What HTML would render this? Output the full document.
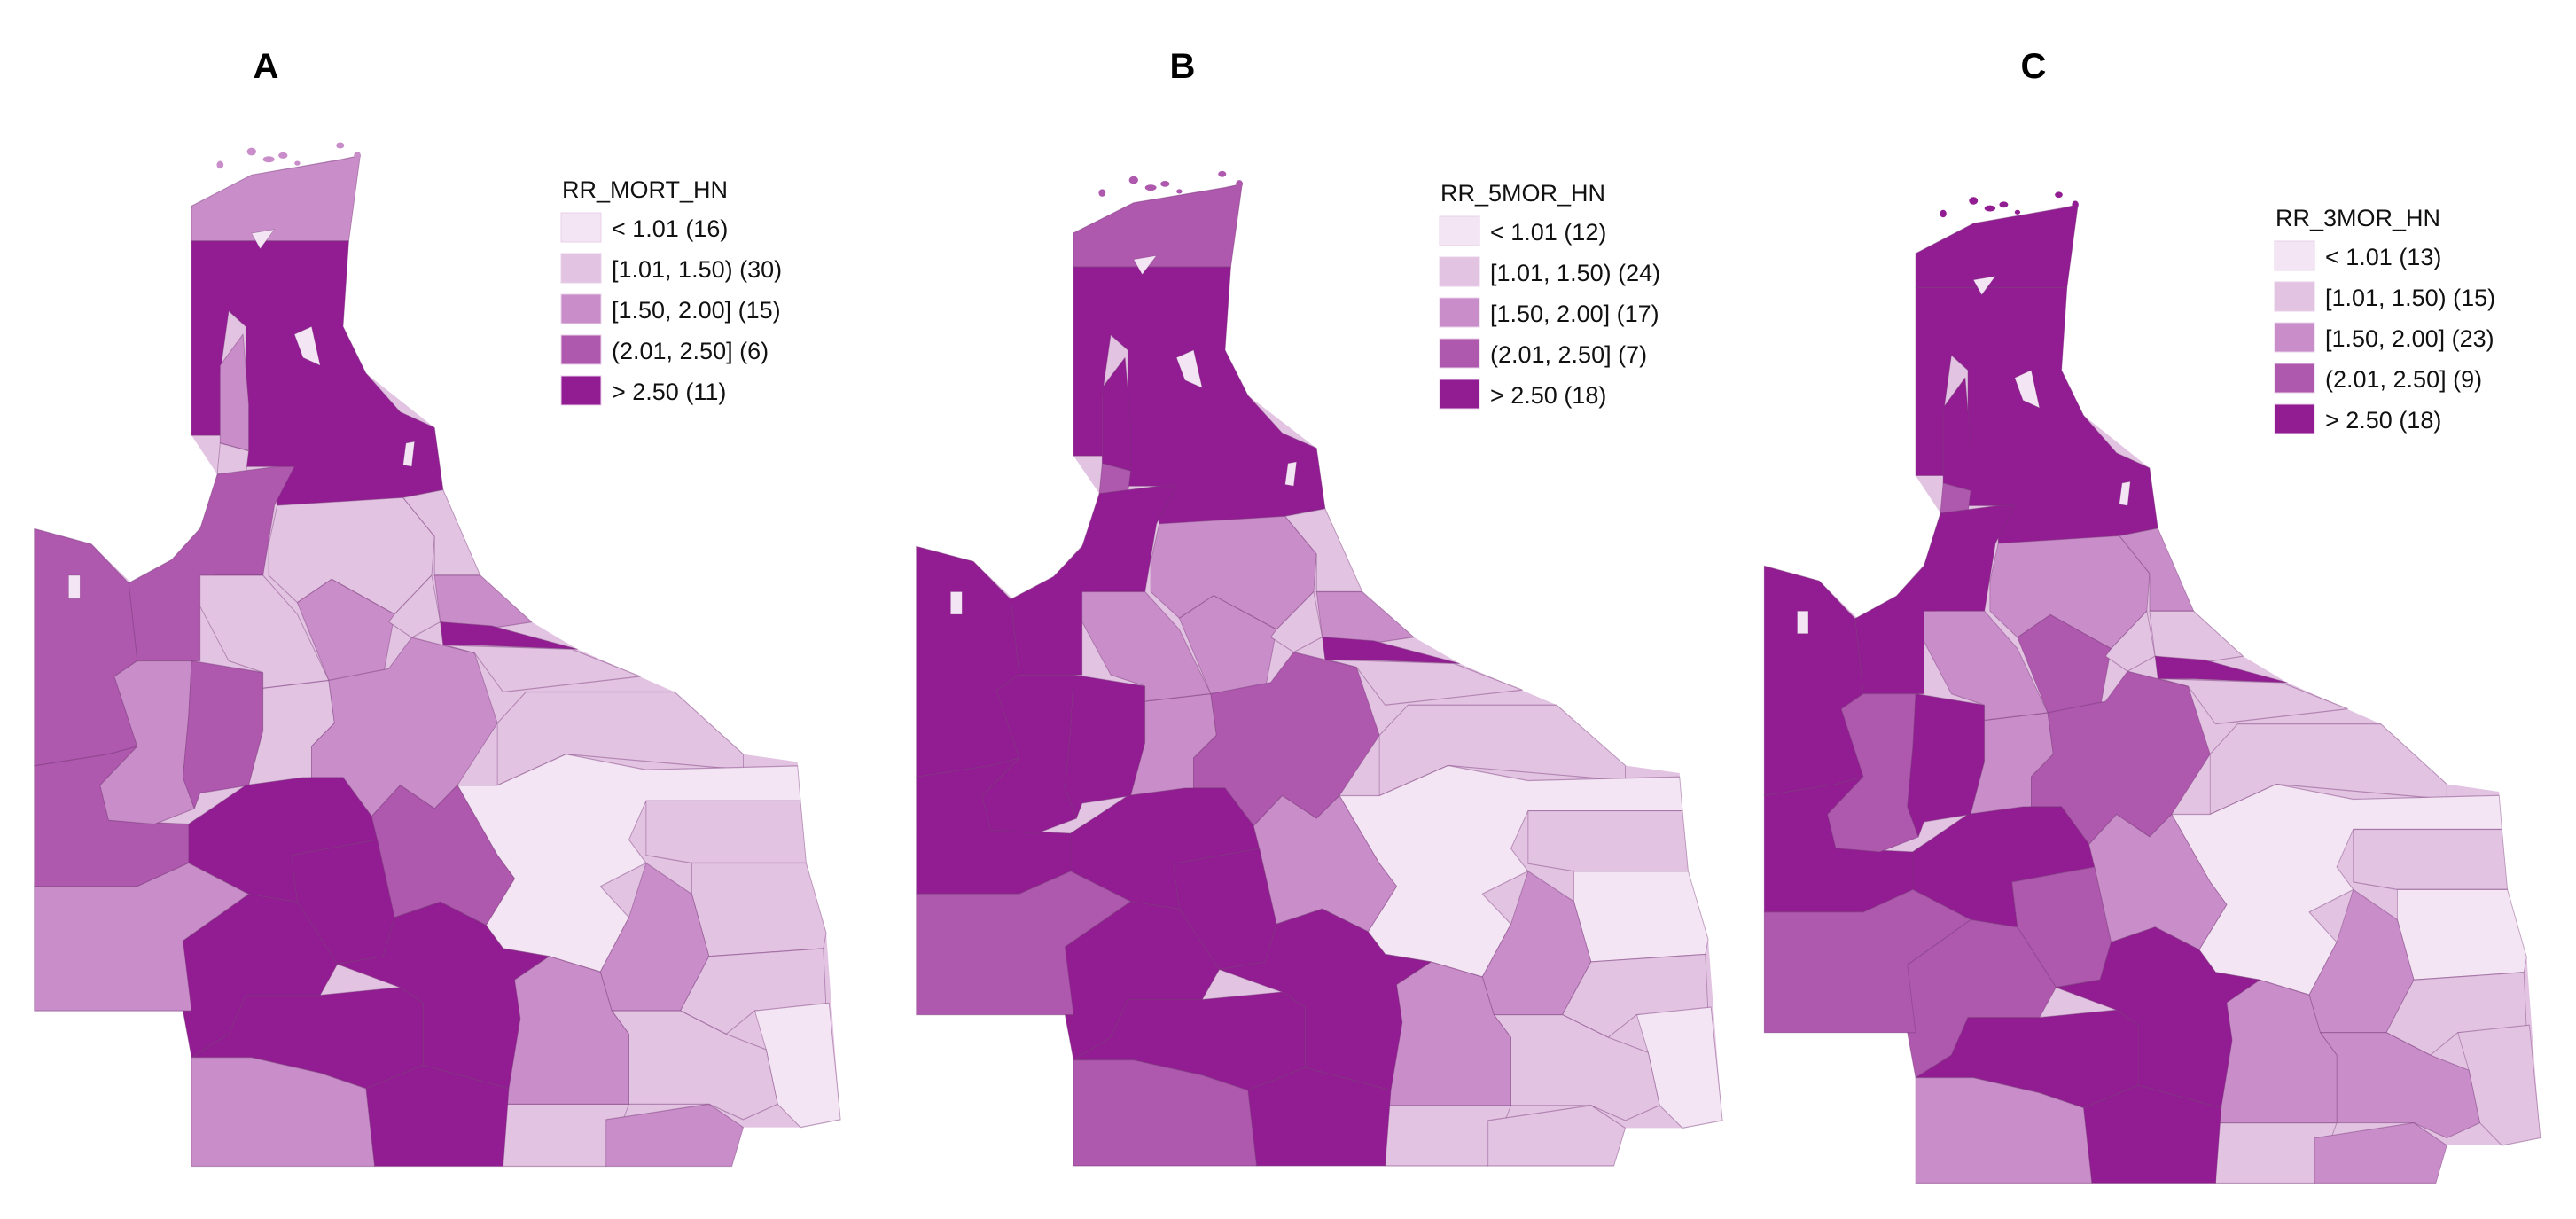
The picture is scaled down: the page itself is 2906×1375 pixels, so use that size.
<!DOCTYPE html>
<html><head><meta charset="utf-8">
<style>
html,body{margin:0;padding:0;background:#fff;}
svg{display:block;font-family:"Liberation Sans",sans-serif;}
</style></head>
<body>
<svg id="fig" width="2906" height="1375" viewBox="0 0 2906 1375" xmlns="http://www.w3.org/2000/svg">
<rect width="2906" height="1375" fill="#fff"/>
</svg>
<script>
const classColors = ["#f3e5f3","#e2c4e2","#c98ec9","#ae58ae","#921c92"];
const panelLetters = ["A","B","C"];
const legendTitles = ["RR_MORT_HN","RR_5MOR_HN","RR_3MOR_HN"];
const legendLabels = ["< 1.01","[1.01, 1.50)","[1.50, 2.00]","(2.01, 2.50]","> 2.50"];
const countsA = [16,30,15,6,11];
const countsB = [12,24,17,7,18];
const countsC = [13,15,23,9,18];
const classA = [3,5,3,2,4,4,4,3,4,2,2,2,3,2,2,3,5,2,3,2,1,2,2,3,2,1,2,2,3,3,5,4,5,5,5,5,5,3,3];
const classB = [4,5,5,4,5,5,5,5,5,3,3,3,3,2,2,3,5,2,4,2,1,2,1,3,2,1,2,2,2,3,5,3,5,5,5,5,5,4,4];
const classC = [5,5,5,4,5,5,5,4,5,3,3,3,4,2,3,2,5,2,4,2,1,2,1,3,2,2,3,2,3,3,5,3,4,4,5,5,5,3,4];

const outline = [[335,265],[440,225],[630,200],[610,310],[600,420],[640,480],[760,550],[775,630],[840,740],[930,800],[1010,835],[1180,890],[1300,970],[1395,980],[1400,1100],[1445,1200],[1460,1350],[1470,1440],[1400,1450],[1300,1450],[1280,1500],[335,1500],[335,1300],[60,1300],[60,680],[160,700],[230,750],[300,720],[360,670],[380,610],[335,560]];
const regions = [
[[335,265],[440,225],[600,205],[630,200],[610,310],[335,310]],
[[335,310],[610,310],[600,420],[640,480],[700,530],[760,550],[775,630],[705,640],[705,660],[485,660],[485,600],[430,600],[430,420],[400,400],[385,480],[385,560],[335,560]],
[[385,470],[425,430],[435,520],[435,580],[385,570]],
[[385,570],[435,580],[430,610],[380,610]],
[[380,610],[485,600],[515,600],[480,650],[460,740],[375,740],[350,780],[350,850],[240,850],[225,750],[300,720],[350,680]],
[[60,680],[160,700],[225,750],[240,850],[200,870],[240,960],[190,970],[60,985]],
[[60,985],[190,970],[240,960],[175,1010],[190,1055],[330,1060],[350,1050],[330,1110],[240,1140],[60,1140]],
[[200,870],[240,850],[335,850],[330,920],[320,1000],[340,1040],[270,1060],[190,1055],[175,1010],[240,960]],
[[335,850],[460,865],[460,940],[435,1010],[350,1020],[340,1040],[320,1000],[330,920]],
[[460,885],[575,875],[585,930],[545,960],[545,1000],[435,1010],[460,940]],
[[350,740],[460,740],[520,790],[575,875],[460,885],[460,865],[400,850],[350,780]],
[[485,650],[705,640],[760,690],[755,740],[690,790],[580,745],[520,775],[470,740],[470,700]],
[[520,775],[580,745],[690,790],[670,870],[640,880],[575,875]],
[[690,790],[755,740],[770,800],[720,820],[680,800]],
[[705,640],[775,630],[840,740],[760,740],[760,690]],
[[760,740],[840,740],[930,800],[840,810],[770,800]],
[[770,800],[860,805],[1010,835],[840,830],[775,830]],
[[780,830],[1000,835],[1120,870],[880,890],[830,840]],
[[575,875],[680,860],[720,820],[830,840],[870,930],[800,1010],[760,1040],[700,1010],[650,1050],[600,1000],[545,1000],[545,960],[585,930]],
[[870,930],[920,890],[1180,890],[1300,970],[1300,990],[990,970],[870,1010]],
[[800,1010],[870,1010],[990,970],[1130,990],[1395,985],[1400,1030],[1130,1030],[1100,1080],[1130,1110],[1050,1140],[1100,1180],[1050,1250],[960,1230],[880,1220],[850,1190],[900,1130],[870,1100]],
[[1130,1030],[1400,1030],[1410,1110],[1210,1110],[1130,1100]],
[[1210,1110],[1410,1110],[1445,1200],[1440,1220],[1240,1230],[1210,1150]],
[[1130,1110],[1210,1150],[1240,1230],[1190,1300],[1070,1300],[1050,1250],[1100,1180]],
[[1190,1300],[1240,1230],[1440,1220],[1445,1300],[1320,1300],[1270,1330]],
[[1320,1300],[1450,1290],[1470,1440],[1400,1450],[1360,1420],[1340,1350]],
[[1070,1300],[1190,1300],[1270,1330],[1340,1350],[1360,1420],[1300,1440],[1240,1420],[1100,1420],[1100,1330]],
[[880,1420],[1100,1420],[1060,1500],[880,1500]],
[[1060,1440],[1240,1420],[1300,1450],[1280,1500],[1060,1500]],
[[900,1260],[960,1230],[1050,1250],[1070,1300],[1100,1330],[1100,1420],[880,1420],[890,1330]],
[[330,1060],[430,1010],[530,1000],[600,1000],[650,1050],[660,1080],[510,1100],[520,1160],[435,1150],[330,1110]],
[[650,1050],[700,1010],[760,1040],[800,1010],[870,1100],[900,1130],[850,1190],[770,1160],[690,1180],[660,1080]],
[[510,1100],[660,1080],[690,1180],[670,1230],[590,1240],[520,1160]],
[[320,1210],[435,1150],[520,1160],[590,1240],[560,1280],[430,1280],[400,1330],[335,1360],[310,1260]],
[[590,1240],[670,1230],[690,1180],[770,1160],[850,1190],[880,1220],[960,1230],[900,1260],[910,1310],[890,1400],[740,1370],[740,1290],[700,1270]],
[[400,1330],[430,1280],[560,1280],[700,1270],[740,1290],[740,1370],[640,1400],[560,1380],[440,1360],[335,1360]],
[[640,1400],[740,1370],[890,1400],[880,1500],[655,1500]],
[[335,1360],[440,1360],[560,1380],[640,1400],[655,1500],[335,1500]],
[[60,1140],[240,1140],[330,1110],[435,1150],[320,1210],[335,1300],[60,1300]]
];
const holes = [[[515,430],[545,420],[560,470],[530,460]],[[440,300],[480,295],[455,320]],[[120,740],[140,740],[140,770],[120,770]],[[710,570],[725,568],[720,600],[705,598]]];
const islands = [[440,195,8,5],[470,205,10,4],[495,200,8,4],[385,212,6,5],[595,187,7,4],[625,200,6,5],[520,210,5,3]];

const panels = [
 {cls:classA,counts:countsA,tx:0,ty:0,sx:0.645,sy:0.877,lx:0,ly:0,letterX:300},
 {cls:classB,counts:countsB,tx:995,ty:37,sx:0.645,sy:0.852,lx:991,ly:4,letterX:1334},
 {cls:classC,counts:countsC,tx:1953,ty:61,sx:0.621,sy:0.849,lx:1933,ly:32,letterX:2294}
];
const NS="http://www.w3.org/2000/svg";
const svg=document.getElementById('fig');
function mk(tag,attrs,parent){const e=document.createElementNS(NS,tag);for(const k in attrs)e.setAttribute(k,attrs[k]);(parent||svg).appendChild(e);return e;}
const pts=p=>p.map(q=>q.join(',')).join(' ');

panels.forEach((P,pi)=>{
  const g=mk('g',{transform:`translate(${P.tx},${P.ty}) scale(${P.sx},${P.sy})`});
  
  
  const base=mk('polygon',{points:pts(outline),fill:classColors[1],stroke:'none'},g);
  
  
  regions.forEach((r,ri)=>{
    const poly=mk('polygon',{points:pts(r),fill:classColors[P.cls[ri]-1],stroke:'#7a3a7a','stroke-opacity':0.45,'stroke-width':1.4,'stroke-linejoin':'round'},g);
    
    
  });
  holes.forEach(h=>{
    const e=mk('polygon',{points:pts(h),fill:classColors[0],stroke:'#7a3a7a','stroke-opacity':0.4,'stroke-width':1},g);
    
    
  });
  islands.forEach(s=>{
    const e=mk('ellipse',{cx:s[0],cy:s[1],rx:s[2],ry:s[3],fill:classColors[P.cls[0]-1]},g);
    
    
  });
  const L=mk('text',{x:P.letterX,y:88,'font-size':40,'font-weight':'bold','text-anchor':'middle',fill:'#000'});
  L.textContent=panelLetters[pi];
  
  
  const lg=mk('g',{transform:`translate(${P.lx},${P.ly})`});
  
  
  const t=mk('text',{x:634,y:223,'font-size':27,fill:'#111'},lg);
  t.textContent=legendTitles[pi];
  
  
  legendLabels.forEach((lab,i)=>{
    const y=240+i*46;
    const b=mk('rect',{x:633,y:y,width:45,height:33,fill:classColors[i],stroke:'#e8d0e8','stroke-width':1},lg);
    
    
    const tx=mk('text',{x:690,y:y+27,'font-size':27,fill:'#111'},lg);
    tx.textContent=lab+' ('+P.counts[i]+')';
    
    
  });
});
</script>
</body></html>
